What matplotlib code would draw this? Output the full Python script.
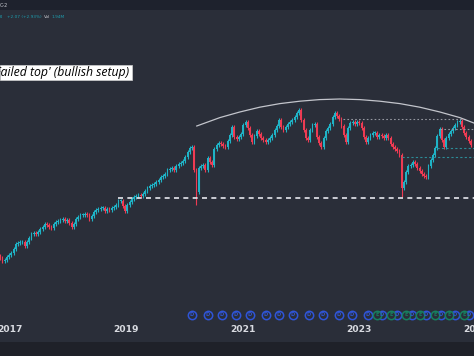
"""
Weekly-style candlestick chart with a 'failed top' annotation
"""

import datetime as dt

import matplotlib.dates as mdates
import matplotlib.pyplot as plt
import numpy as np
import pandas as pd
from matplotlib.patches import Rectangle

# Bi-weekly closes
closes = [
    44.5, 43.75, 44.0, 44.75, 45.25, 45.75, 46.75, 48.0, 48.25, 48.5,
    48.5, 47.5, 48.5, 49.5, 50.5, 50.75, 50.5, 51.0, 51.75, 52.25,
    53.0, 52.75, 52.25, 52.0, 53.0, 53.5, 53.75, 54.0, 54.25, 53.75,
    54.0, 53.25, 52.25, 53.0, 54.25, 54.75, 55.25, 55.25, 55.5, 55.25,
    54.25, 55.0, 56.0, 56.5, 56.75, 57.0, 57.0, 56.25, 56.75, 56.5,
    57.0, 57.25, 57.75, 58.75, 58.75, 57.5, 56.25, 57.75, 58.5, 59.25,
    59.75, 60.0, 60.25, 60.0, 60.5, 61.25, 62.0, 62.5, 62.75, 63.0,
    63.5, 64.0, 64.75, 65.0, 65.5, 66.5, 66.75, 67.0, 66.5, 67.5,
    68.0, 68.25, 68.75, 69.75, 71.0, 72.0, 72.25, 66.5, 61.0, 67.0,
    67.5, 67.75, 66.5, 69.5, 68.5, 67.75, 71.75, 72.75, 73.25, 73.0,
    72.5, 72.25, 73.75, 75.25, 77.25, 74.75, 74.25, 74.75, 75.5, 77.75,
    78.5, 77.0, 75.25, 73.5, 75.0, 76.25, 75.5, 74.5, 74.0, 73.5,
    74.0, 74.5, 75.25, 76.5, 77.5, 79.0, 77.25, 76.5, 77.25, 78.0,
    78.5, 79.0, 79.75, 80.75, 81.5, 79.0, 76.5, 74.5, 74.0, 76.5,
    77.75, 78.0, 74.75, 73.25, 72.25, 74.5, 76.25, 77.0, 78.0, 79.75,
    80.75, 80.0, 79.25, 77.5, 75.25, 73.5, 77.0, 78.25, 78.5, 78.0,
    78.5, 78.25, 77.0, 74.75, 73.5, 74.5, 75.25, 75.75, 75.75, 74.75,
    75.25, 75.0, 74.5, 75.25, 74.5, 73.0, 72.25, 71.75, 71.25, 70.25,
    62.0, 63.5, 66.0, 67.5, 67.75, 68.5, 68.0, 67.0, 66.25, 65.5,
    65.0, 64.75, 67.5, 69.0, 70.25, 72.0, 75.0, 76.75, 74.0, 72.25,
    74.5, 75.5, 76.25, 77.0, 77.75, 78.5, 78.75, 77.25, 75.75, 74.75,
    73.75, 72.75,
]
first_candle = "2016-10-31"
# long lower wicks at the two sell-offs
wick_lows = {88: 57.75, 180: 59.75}

# drawn levels
level_prices = [59.5, 79.25, 76.875, 72.0, 69.875]
level_starts = ["2018-11-08", "2022-09-21", "2024-05-22", "2024-05-04", "2023-09-26"]
level_ends = ["2024-12-31", "2024-11-01", "2024-12-31", "2024-12-31", "2024-12-31"]

# the arc over the top
arc_dates = [
    "2020-03-18", "2020-08-10", "2020-12-13", "2021-04-17", "2021-08-22",
    "2021-12-25", "2022-04-28", "2022-09-02", "2023-01-06", "2023-05-11",
    "2023-09-13", "2024-01-17", "2024-05-22", "2024-09-24", "2024-12-21",
]
arc_prices = [
    77.5, 79.6, 81.0, 82.2, 83.1, 83.7, 84.1, 84.25, 84.1, 83.7,
    83.1, 82.2, 81.0, 79.6, 78.25,
]

# dividend / earnings markers
dividend_dates = [
    "2020-02-16", "2020-05-27", "2020-08-23", "2020-11-18", "2021-02-15",
    "2021-05-26", "2021-08-16", "2021-11-12", "2022-02-20", "2022-05-19",
    "2022-08-27", "2022-11-16", "2023-02-24", "2023-05-23", "2023-08-25",
    "2023-11-27", "2024-02-23", "2024-05-28", "2024-08-24", "2024-11-19",
]
earnings_dates = [
    "2023-04-22", "2023-07-19", "2023-10-21", "2024-01-17", "2024-04-20",
    "2024-07-17", "2024-10-19",
]

year_labels = [2017, 2019, 2021, 2023, 2025]

BG = "#2a2e39"
UP = "#1fb3c6"
DOWN = "#ee3b53"

fig = plt.figure(figsize=(4.74, 3.56), dpi=100, facecolor=BG)
ax = fig.add_axes([0, 0, 1, 1])
ax.set_facecolor(BG)

x = mdates.date2num(pd.date_range(first_candle, periods=len(closes), freq="14D").to_pydatetime())
c = np.array(closes)
o = np.concatenate([[c[0] + 0.5], c[:-1]])
top = np.maximum(o, c)
bot = np.minimum(o, c)
highs = top + 0.6
lows = bot - 0.6
for i, v in wick_lows.items():
    lows[i] = v
colors = [UP if cc >= oo else DOWN for oo, cc in zip(o, c)]

ax.vlines(x, lows, highs, colors=colors, lw=0.8, zorder=3)
ax.bar(x, np.maximum(top - bot, 0.35), bottom=bot, width=11, color=colors, lw=0, zorder=4)

# Levels
to_num = lambda s: mdates.date2num(pd.Timestamp(s).to_pydatetime())
styles = [
    dict(color="#e6e8ee", lw=1.2, ls=(0, (3, 2.6))),
    dict(color="#9598a1", lw=0.8, ls=(0, (1.5, 2))),
    dict(color="#9598a1", lw=0.8, ls=(0, (1.5, 2))),
    dict(color="#2c8c98", lw=0.8, ls=(0, (2, 2))),
    dict(color="#2c8c98", lw=0.8, ls=(0, (2, 2))),
]
for p, s, e, st in zip(level_prices, level_starts, level_ends, styles):
    ax.plot([to_num(s), to_num(e)], [p, p], zorder=5, **st)

ax.plot([to_num(d) for d in arc_dates], arc_prices, color="#c3c5cc", lw=0.9, zorder=5)

# Event markers
tr = ax.get_xaxis_transform()
ev_y = 1 - 315 / 356
for dates, edge, letter in [(dividend_dates, "#2f55d8", "D"), (earnings_dates, "#17805f", "E")]:
    xs = [to_num(d) for d in dates]
    ax.scatter(xs, [ev_y] * len(xs), s=36, facecolor=BG, edgecolor=edge, lw=1.1,
               transform=tr, zorder=6, clip_on=False)
    for xx in xs:
        ax.text(xx, ev_y, letter, transform=tr, ha="center", va="center",
                fontsize=3.6, color=edge, weight="bold", zorder=7)

for yr in year_labels:
    ax.text(mdates.date2num(dt.datetime(yr, 1, 1)), 1 - 330 / 356, str(yr), transform=tr,
            ha="center", va="center", fontsize=6.6, weight="bold", color="#d9dbe1")

ax.set_xlim(to_num("2016-10-30"), to_num("2024-12-22"))
ax.set_ylim(20, 109)
ax.axis("off")

# Header strip and bottom strip
fig.add_artist(Rectangle((0, 1 - 10 / 356), 1, 10 / 356, transform=fig.transFigure,
                         fc="#1e222d", ec="none", zorder=10))
fig.add_artist(Rectangle((0, 0), 1, 14 / 356, transform=fig.transFigure,
                         fc="#1f2129", ec="none", zorder=10))
fig.text(0 / 474, 1 - 5.5 / 356, "C-2", fontsize=3.6, color="#c8cad0", va="center", zorder=11)
row_y = 1 - 17 / 356
fig.text(-1 / 474, row_y, "3)", fontsize=3.1, color="#1d9fb0", va="center")
fig.text(7 / 474, row_y, "+2.07 (+2.93%)", fontsize=3.1, color="#1d9fb0", va="center")
fig.text(44 / 474, row_y, "Vol", fontsize=3.1, color="#c8cad0", va="center")
fig.text(52 / 474, row_y, "1.94M", fontsize=3.1, color="#1d9fb0", va="center")

# Annotation box
fig.add_artist(Rectangle((0, 1 - 80 / 356), 132 / 474, 15 / 356, transform=fig.transFigure,
                         fc="white", ec="#d0d0d0", lw=0.5, zorder=10))
fig.text(129 / 474, 1 - 72.5 / 356, "'Failed top' (bullish setup)", ha="right", va="center",
         fontsize=8.8, fontstyle="italic", family=["Open Sans", "DejaVu Sans"], color="black",
         zorder=11)

fig.savefig("out.png", dpi=100, facecolor=BG)
